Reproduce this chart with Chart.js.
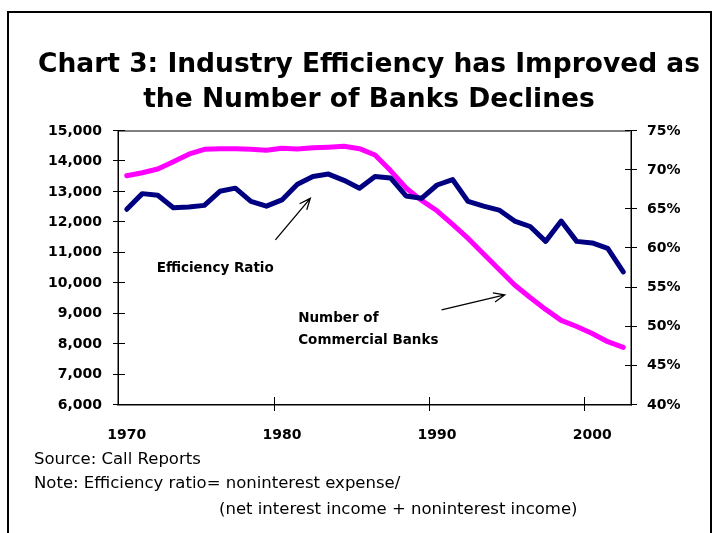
<!DOCTYPE html>
<html>
<head>
<meta charset="utf-8">
<script src="https://cdn.jsdelivr.net/npm/chart.js@4/dist/chart.umd.min.js"></script>
<style>
  html, body { margin: 0; padding: 0; background: #ffffff; }
  #wrap { width: 718px; height: 533px; position: relative; }
</style>
</head>
<body>
<div id="wrap"><canvas id="chart" width="718" height="533"></canvas></div>
<script>
// Years on the category axis
const years = ['1970','1971','1972','1973','1974','1975','1976','1977','1978','1979',
               '1980','1981','1982','1983','1984','1985','1986','1987','1988','1989',
               '1990','1991','1992','1993','1994','1995','1996','1997','1998','1999',
               '2000','2001','2002'];
const labelledYears = ['1970', '1980', '1990', '2000'];

// Number of commercial banks (left axis)
const banks = [13530, 13630, 13750, 13990, 14240, 14400, 14420, 14420, 14400, 14370,
               14430, 14410, 14450, 14470, 14500, 14420, 14210, 13700, 13130, 12720,
               12380, 11930, 11470, 10960, 10450, 9940, 9530, 9140, 8780, 8580,
               8350, 8080, 7890];

// Efficiency ratio, percent (right axis)
const efficiency = [65.0, 67.0, 66.8, 65.2, 65.3, 65.5, 67.3, 67.7, 66.0, 65.4,
                    66.2, 68.2, 69.2, 69.5, 68.7, 67.7, 69.2, 69.0, 66.7, 66.4,
                    68.1, 68.8, 66.0, 65.4, 64.9, 63.5, 62.8, 60.9, 63.5, 60.9,
                    60.7, 60.0, 57.0];

// Tick values for the two value axes
const bankTicks = [6000, 7000, 8000, 9000, 10000, 11000, 12000, 13000, 14000, 15000];
const ratioTicks = [40, 45, 50, 55, 60, 65, 70, 75];

const titleLines = ['Chart 3: Industry Efficiency has Improved as', 'the Number of Banks Declines'];
const footLines = ['Source: Call Reports',
                   'Note: Efficiency ratio= noninterest expense/',
                   '(net interest income + noninterest income)'];

// Callout labels with arrows, placed in data coordinates (category index, axis value)
const callouts = [
  { lines: ['Efficiency Ratio'], axis: 'y2', text: [1.93, 57.5], tail: [9.58, 61.1], tip: [11.83, 66.4] },
  { lines: ['Number of', 'Commercial Banks'], axis: 'y', text: [11.05, 8825], tail: [20.29, 9121], tip: [24.36, 9614] }
];

const FONT = '"DejaVu Sans", "Liberation Sans", Arial, sans-serif';

const decorations = {
  id: 'decorations',
  beforeDraw(chart) {
    const ctx = chart.ctx;
    ctx.save();
    ctx.fillStyle = '#ffffff';
    ctx.fillRect(0, 0, chart.width, chart.height);
    // outer frame
    ctx.strokeStyle = '#000000';
    ctx.lineWidth = 2;
    ctx.strokeRect(8, 12, 703, 540);
    // title
    ctx.fillStyle = '#000000';
    ctx.font = 'bold 26.5px ' + FONT;
    ctx.textAlign = 'center';
    ctx.textBaseline = 'alphabetic';
    ctx.fillText(titleLines[0], 369, 72);
    ctx.fillText(titleLines[1], 369, 107);
    // footnotes
    ctx.font = '16.5px ' + FONT;
    ctx.textAlign = 'left';
    ctx.textBaseline = 'middle';
    ctx.fillText(footLines[0], 34, 460);
    ctx.fillText(footLines[1], 34, 484);
    ctx.fillText(footLines[2], 219, 510);
    ctx.restore();
  },
  beforeDatasetsDraw(chart) {
    const ctx = chart.ctx;
    const a = chart.chartArea;
    const xs = chart.scales.x, yl = chart.scales.y, yr = chart.scales.y2;
    ctx.save();
    // plot area border
    ctx.strokeStyle = '#808080';
    ctx.lineWidth = 2;
    ctx.strokeRect(a.left - 1, a.top, a.right - a.left + 1, a.bottom - a.top);
    // axis lines
    ctx.strokeStyle = '#000000';
    ctx.lineWidth = 1;
    ctx.beginPath();
    ctx.moveTo(a.left - 0.5, a.top); ctx.lineTo(a.left - 0.5, a.bottom);
    ctx.moveTo(a.right + 0.5, a.top); ctx.lineTo(a.right + 0.5, a.bottom + 0.5);
    ctx.moveTo(a.left - 1, a.bottom - 0.5); ctx.lineTo(a.right + 1, a.bottom - 0.5);
    // crossing tick marks on the value axes
    yl.ticks.forEach(t => {
      const y = Math.round(yl.getPixelForValue(t.value)) - 0.5;
      ctx.moveTo(a.left - 6, y); ctx.lineTo(a.left + 6, y);
    });
    yr.ticks.forEach(t => {
      const y = Math.round(yr.getPixelForValue(t.value)) - 0.5;
      ctx.moveTo(a.right - 6, y); ctx.lineTo(a.right + 6, y);
    });
    // category tick marks every ten years, between categories
    const half = (xs.getPixelForValue(1) - xs.getPixelForValue(0)) / 2;
    years.forEach((yr0, i) => {
      if (i > 0 && labelledYears.includes(yr0)) {
        const x = Math.round(xs.getPixelForValue(i) - half) + 0.5;
        ctx.moveTo(x, a.bottom - 8); ctx.lineTo(x, a.bottom + 6);
      }
    });
    ctx.stroke();
    ctx.restore();
  },
  afterDraw(chart) {
    const ctx = chart.ctx;
    const xs = chart.scales.x;
    ctx.save();
    ctx.fillStyle = '#000000';
    ctx.strokeStyle = '#000000';
    ctx.font = 'bold 13.5px ' + FONT;
    ctx.textAlign = 'left';
    ctx.textBaseline = 'middle';
    callouts.forEach(c => {
      const ys = chart.scales[c.axis];
      const tx = xs.getPixelForValue(c.text[0]);
      const ty = ys.getPixelForValue(c.text[1]);
      c.lines.forEach((ln, k) => ctx.fillText(ln, tx, ty + k * 22));
      const x1 = xs.getPixelForValue(c.tail[0]), y1 = ys.getPixelForValue(c.tail[1]);
      const x2 = xs.getPixelForValue(c.tip[0]), y2 = ys.getPixelForValue(c.tip[1]);
      const ang = Math.atan2(y2 - y1, x2 - x1);
      const len = 12, spread = 0.4;
      ctx.lineWidth = 1.3;
      ctx.beginPath();
      ctx.moveTo(x1, y1); ctx.lineTo(x2, y2);
      ctx.moveTo(x2 - len * Math.cos(ang - spread), y2 - len * Math.sin(ang - spread));
      ctx.lineTo(x2, y2);
      ctx.lineTo(x2 - len * Math.cos(ang + spread), y2 - len * Math.sin(ang + spread));
      ctx.stroke();
    });
    ctx.restore();
  }
};

const tickFont = { family: FONT, size: 14, weight: 'bold' };

new Chart(document.getElementById('chart'), {
  type: 'line',
  data: {
    labels: years,
    datasets: [
      {
        label: 'Efficiency Ratio',
        data: efficiency,
        yAxisID: 'y2',
        borderColor: '#000080',
        borderWidth: 5,
        pointRadius: 0,
        tension: 0,
        borderCapStyle: 'round',
        borderJoinStyle: 'round',
        fill: false
      },
      {
        label: 'Number of Commercial Banks',
        data: banks,
        yAxisID: 'y',
        borderColor: '#ff00ff',
        borderWidth: 5,
        pointRadius: 0,
        tension: 0,
        borderCapStyle: 'round',
        borderJoinStyle: 'round',
        fill: false
      }
    ]
  },
  options: {
    responsive: false,
    animation: false,
    devicePixelRatio: 1,
    layout: { padding: { top: 131, left: 0, right: 0, bottom: 0 } },
    plugins: { legend: { display: false }, title: { display: false }, tooltip: { enabled: false } },
    scales: {
      x: {
        type: 'category',
        offset: true,
        grid: { display: false },
        border: { display: false },
        ticks: {
          autoSkip: false,
          maxRotation: 0,
          minRotation: 0,
          padding: 14,
          color: '#000000',
          font: tickFont,
          callback: (v, i) => labelledYears.includes(years[i]) ? years[i] : ''
        },
        afterFit: s => { s.height = 128; }
      },
      y: {
        position: 'left',
        min: 6000,
        max: 15000,
        grid: { display: false, drawTicks: false },
        border: { display: false },
        afterBuildTicks: s => { s.ticks = bankTicks.map(v => ({ value: v })); },
        ticks: {
          padding: 17,
          color: '#000000',
          font: tickFont,
          callback: v => v.toLocaleString('en-US')
        },
        afterFit: s => { s.width = 119; }
      },
      y2: {
        position: 'right',
        min: 40,
        max: 75,
        grid: { display: false, drawTicks: false },
        border: { display: false },
        afterBuildTicks: s => { s.ticks = ratioTicks.map(v => ({ value: v })); },
        ticks: {
          padding: 16,
          color: '#000000',
          font: tickFont,
          callback: v => v + '%'
        },
        afterFit: s => { s.width = 87; }
      }
    }
  },
  plugins: [decorations]
});
</script>
</body>
</html>
